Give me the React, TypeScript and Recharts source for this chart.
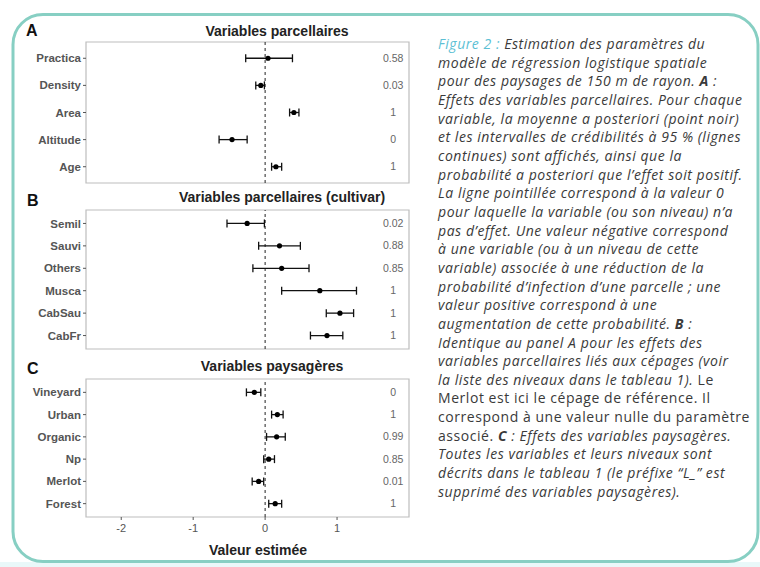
import React from "react";
import { ScatterChart, Scatter, XAxis, YAxis, ErrorBar, ReferenceLine, ReferenceArea } from "recharts";

// shared x scale (posterior estimate)
const X_DOMAIN: [number, number] = [-2.49, 2.0];
const X_TICKS = [-2, -1, 0, 1];
const PROB_X = 1.78; // where the probability column sits

// A : Variables parcellaires
const A_NAMES = ["Practica", "Density", "Area", "Altitude", "Age"];
const A_EST = [0.04, -0.06, 0.4, -0.46, 0.15];
const A_LOW = [-0.27, -0.13, 0.34, -0.64, 0.09];
const A_HIGH = [0.38, -0.01, 0.47, -0.25, 0.23];
const A_PROB = ["0.58", "0.03", "1", "0", "1"];

// B : Variables parcellaires (cultivar)
const B_NAMES = ["Semil", "Sauvi", "Others", "Musca", "CabSau", "CabFr"];
const B_EST = [-0.25, 0.2, 0.23, 0.76, 1.04, 0.86];
const B_LOW = [-0.53, -0.09, -0.17, 0.23, 0.85, 0.63];
const B_HIGH = [-0.01, 0.49, 0.61, 1.27, 1.23, 1.08];
const B_PROB = ["0.02", "0.88", "0.85", "1", "1", "1"];

// C : Variables paysagères
const C_NAMES = ["Vineyard", "Urban", "Organic", "Np", "Merlot", "Forest"];
const C_EST = [-0.15, 0.17, 0.16, 0.05, -0.09, 0.14];
const C_LOW = [-0.26, 0.09, 0.02, -0.02, -0.18, 0.05];
const C_HIGH = [-0.06, 0.25, 0.28, 0.13, -0.02, 0.23];
const C_PROB = ["0", "1", "0.99", "0.85", "0.01", "1"];

const FONT = "'Liberation Sans', Arial, sans-serif";
const TEAL = "#87cfc3";

interface PanelData {
  names: string[];
  est: number[];
  low: number[];
  high: number[];
  prob: string[];
}

const Dot = (props: any) => <circle cx={props.cx} cy={props.cy} r={2.6} fill="#000" />;

const ProbText = (props: any) => (
  <text x={props.cx} y={props.cy} dy={3.5} textAnchor="middle" fontSize={10.5} fill="#666" fontFamily={FONT}>
    {props.payload.label}
  </text>
);

function ForestPanel({ panel, boxTop, boxH, showAxis }: { panel: PanelData; boxTop: number; boxH: number; showAxis?: boolean }) {
  const n = panel.names.length;
  const data = panel.names.map((name, i) => ({
    name,
    x: panel.est[i],
    y: i + 1,
    err: [panel.est[i] - panel.low[i], panel.high[i] - panel.est[i]],
  }));
  const labels = panel.prob.map((label, i) => ({ x: PROB_X, y: i + 1, label }));
  const yTicks = panel.names.map((_, i) => i + 1);
  const axisH = showAxis ? 30 : 0;

  return (
    <div style={{ position: "absolute", left: 0, top: boxTop - 5 }}>
      <ScatterChart
        width={420}
        height={boxH + 5 + (showAxis ? axisH : 5)}
        margin={{ top: 5, right: 11, bottom: showAxis ? 0 : 5, left: 0 }}
      >
        <XAxis
          type="number"
          dataKey="x"
          domain={X_DOMAIN}
          ticks={X_TICKS}
          allowDataOverflow
          hide={!showAxis}
          height={axisH}
          axisLine={false}
          tickLine={{ stroke: "#555" }}
          tickSize={3}
          tickMargin={4}
          tick={{ fill: "#555", fontSize: 11, fontFamily: FONT }}
        />
        <YAxis
          type="number"
          dataKey="y"
          domain={[0.4, n + 0.6]}
          ticks={yTicks}
          reversed
          interval={0}
          width={86}
          axisLine={false}
          tickLine={{ stroke: "#555" }}
          tickSize={3}
          tickMargin={2}
          tickFormatter={(v: number) => panel.names[v - 1]}
          tick={{ fill: "#555", fontSize: 11.5, fontWeight: 700, fontFamily: FONT }}
        />
        <ReferenceArea
          x1={X_DOMAIN[0]}
          x2={X_DOMAIN[1]}
          y1={0.4}
          y2={n + 0.6}
          fill="#fff"
          fillOpacity={0}
          stroke="#bdbdbd"
          strokeWidth={1.2}
        />
        <ReferenceLine x={0} stroke="#222" strokeDasharray="3 3" />
        <Scatter data={data} shape={Dot} isAnimationActive={false}>
          <ErrorBar dataKey="err" direction="x" width={4} stroke="#111" strokeWidth={1.3} />
        </Scatter>
        <Scatter data={labels} shape={ProbText} isAnimationActive={false} />
      </ScatterChart>
    </div>
  );
}

const up: React.CSSProperties = { fontStyle: "normal" };

const CAPTION: React.ReactNode[] = [
  <><span style={{ color: "#5cbfd4" }}>Figure 2 :</span> Estimation des paramètres du</>,
  <>modèle de régression logistique spatiale</>,
  <>pour des paysages de 150 m de rayon. <b>A</b> :</>,
  <>Effets des variables parcellaires. Pour chaque</>,
  <>variable, la moyenne a posteriori (point noir)</>,
  <>et les intervalles de crédibilités à 95 % (lignes</>,
  <>continues) sont affichés, ainsi que la</>,
  <>probabilité a posteriori que l’effet soit positif.</>,
  <>La ligne pointillée correspond à la valeur 0</>,
  <>pour laquelle la variable (ou son niveau) n’a</>,
  <>pas d’effet. Une valeur négative correspond</>,
  <>à une variable (ou à un niveau de cette</>,
  <>variable) associée à une réduction de la</>,
  <>probabilité d’infection d’une parcelle ; une</>,
  <>valeur positive correspond à une</>,
  <>augmentation de cette probabilité. <b>B</b> :</>,
  <>Identique au panel A pour les effets des</>,
  <>variables parcellaires liés aux cépages (voir</>,
  <>la liste des niveaux dans le tableau 1). <span style={up}>Le</span></>,
  <span style={up}>Merlot est ici le cépage de référence. Il</span>,
  <span style={up}>correspond à une valeur nulle du paramètre</span>,
  <><span style={up}>associé.</span> <b>C</b> : Effets des variables paysagères.</>,
  <>Toutes les variables et leurs niveaux sont</>,
  <>décrits dans le tableau 1 (le préfixe “L_” est</>,
  <>supprimé des variables paysagères).</>,
];

export default function App() {
  return (
    <div style={{ position: "absolute", left: 0, top: 0, width: 760, height: 567, background: "#fff", overflow: "hidden" }}>
      <svg width={760} height={567} style={{ position: "absolute", left: 0, top: 0 }}>
        <rect x={0} y={562} width={760} height={5} fill="#e9f8f9" />
        <rect x={13} y={14.5} width={745} height={547} rx={30} fill="none" stroke={TEAL} strokeWidth={3} />
        <g fontFamily={FONT} fontWeight={700}>
          <text x={26} y={36} fontSize={16} fill="#111">A</text>
          <text x={27} y={206} fontSize={16} fill="#111">B</text>
          <text x={27} y={374} fontSize={16} fill="#111">C</text>
          <text x={277} y={36} fontSize={14} fill="#222" textAnchor="middle">Variables parcellaires</text>
          <text x={282} y={202} fontSize={14} fill="#222" textAnchor="middle">Variables parcellaires (cultivar)</text>
          <text x={272} y={371} fontSize={14} fill="#222" textAnchor="middle">Variables paysagères</text>
          <text x={258} y={555} fontSize={14} fill="#222" textAnchor="middle">Valeur estimée</text>
        </g>
      </svg>

      <ForestPanel panel={{ names: A_NAMES, est: A_EST, low: A_LOW, high: A_HIGH, prob: A_PROB }} boxTop={42} boxH={141} />
      <ForestPanel panel={{ names: B_NAMES, est: B_EST, low: B_LOW, high: B_HIGH, prob: B_PROB }} boxTop={210} boxH={139} />
      <ForestPanel panel={{ names: C_NAMES, est: C_EST, low: C_LOW, high: C_HIGH, prob: C_PROB }} boxTop={379} boxH={138} showAxis />

      <div
        style={{
          position: "absolute",
          left: 438,
          top: 35,
          fontFamily: "'Open Sans', Lato, sans-serif",
          fontSize: 14,
          letterSpacing: 0.55,
          lineHeight: "18.65px",
          color: "#3a3a3a",
          fontStyle: "italic",
        }}
      >
        {CAPTION.map((line, i) => (
          <div key={i} style={{ whiteSpace: "nowrap" }}>{line}</div>
        ))}
      </div>
    </div>
  );
}
